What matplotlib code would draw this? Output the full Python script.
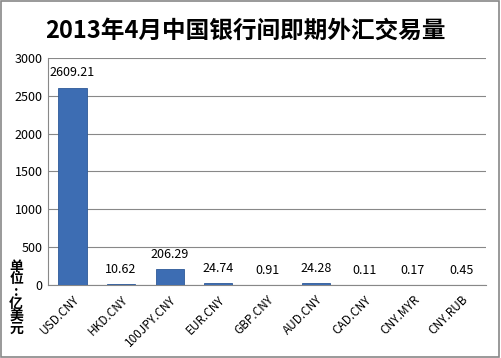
import matplotlib
matplotlib.use('Agg')
import matplotlib.pyplot as plt
from matplotlib.patches import Rectangle

plt.rcParams['font.family'] = ['Noto Sans CJK SC', 'DejaVu Sans']

categories = ['USD.CNY', 'HKD.CNY', '100JPY.CNY', 'EUR.CNY', 'GBP.CNY',
              'AUD.CNY', 'CAD.CNY', 'CNY.MYR', 'CNY.RUB']
volumes = [2609.21, 10.62, 206.29, 24.74, 0.91, 24.28, 0.11, 0.17, 0.45]
labels = ['2609.21', '10.62', '206.29', '24.74', '0.91', '24.28', '0.11', '0.17', '0.45']
yticks = [0, 500, 1000, 1500, 2000, 2500, 3000]

fig = plt.figure(figsize=(5.01, 3.58), dpi=100)
ax = fig.add_axes([0.096, 0.204, 0.874, 0.634])

x = range(len(categories))
bars = ax.bar(x, volumes, width=0.58, color='#3d6db3', edgecolor='#2f5a98', linewidth=0.6, zorder=3)
for b, lab in zip(bars, labels):
    ax.annotate(lab, xy=(b.get_x() + b.get_width() / 2, b.get_height()),
                xytext=(0, 6), textcoords='offset points',
                ha='center', va='bottom', fontsize=9, color='black')

ax.set_xlim(-0.5, len(categories) - 0.5)
ax.set_ylim(0, 3000)
ax.set_yticks(yticks)
ax.set_yticklabels([str(t) for t in yticks], fontsize=9)
ax.set_xticks(list(x))
ax.set_xticklabels(categories, rotation=45, ha='right', rotation_mode='anchor', fontsize=8.5)
ax.tick_params(axis='both', length=0, pad=4)
ax.tick_params(axis='x', pad=6)
ax.grid(axis='y', color='#888888', linewidth=0.8, zorder=0)
for s in ['top', 'right']:
    ax.spines[s].set_visible(False)
ax.spines['left'].set_color('#888888')
ax.spines['bottom'].set_color('#888888')

fig.text(0.49, 0.915, '2013年4月中国银行间即期外汇交易量', ha='center', va='center',
         fontsize=17, fontweight='bold')
fig.text(0.032, 0.168, '单\n位\n:\n亿\n美\n元', ha='center', va='center',
         fontsize=10, fontweight='bold', linespacing=0.86)

fig.patches.append(Rectangle((0.002, 0.003), 0.995, 0.994, transform=fig.transFigure,
                             fill=False, edgecolor='#888888', linewidth=1.2))

fig.savefig('out.png', dpi=100)
